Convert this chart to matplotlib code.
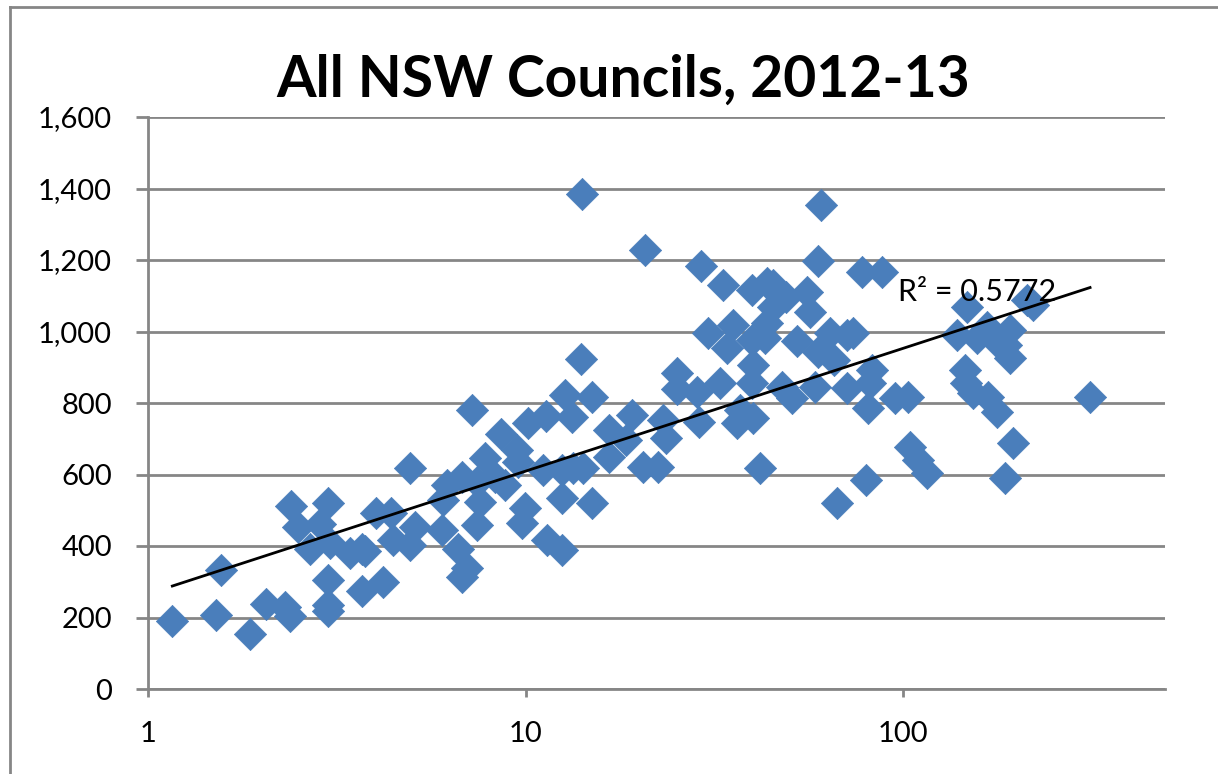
import numpy as np
import matplotlib
matplotlib.use("Agg")
import matplotlib.pyplot as plt
from matplotlib.lines import Line2D

# population (thousands, log scale) vs value per council
x_vals = [1.16, 1.51, 1.56, 1.86, 2.05, 2.31, 2.38, 2.39, 2.50, 2.68,
          2.86, 2.99, 3.03, 2.99, 3.0, 3.0, 3.43, 3.68, 3.75, 3.70,
          4.01, 4.2, 4.39, 4.46, 4.94, 4.94, 5.10, 6.0, 6.18, 6.05,
          6.64, 6.78, 6.78, 6.99, 7.2, 7.42, 7.58, 7.42, 7.81, 8.30,
          8.6, 8.8, 9.48, 9.58, 9.97, 9.8, 10.17, 11.3, 11.1, 11.4,
          12.5, 12.5, 12.7, 12.5, 13.3, 13.4, 14.0, 15.0, 14.2, 15.0,
          16.6, 16.6, 19.1, 14.1, 20.7, 60.5, 59.7, 29.1, 33.3, 39.7,
          43.5, 45.3, 47.2, 49.1, 55.6, 56.7, 45.3, 43.5, 35.5, 30.5,
          34.1, 39.7, 43.2, 52.3, 64.1, 71, 59.7, 65.5, 40.1, 25.2,
          25.2, 28.4, 32.7, 39.7, 47.7, 50.7, 58.6, 71, 37.0, 36.3,
          40.1, 28.9, 23.2, 23.6, 18.5, 20.5, 22.5, 41.8, 66.7, 79.8,
          77.7, 87.8, 73.9, 82.6, 82, 80.8, 95.2, 103.3, 147.4, 138.7,
          156.8, 166.6, 177, 192, 188, 192, 212.7, 221, 146, 147,
          153, 168, 177, 313, 196, 104.4, 109.5, 116, 186]
y_vals = [191, 207, 333, 154, 238, 230, 204, 512, 452, 393,
          461, 519, 407, 305, 235, 219, 380, 393, 385, 275,
          491, 300, 493, 417, 617, 403, 454, 445, 571, 529,
          393, 594, 314, 338, 780, 459, 524, 580, 645, 594,
          713, 571, 668, 636, 505, 463, 743, 764, 612, 418,
          389, 533, 822, 612, 762, 617, 922, 818, 617, 521,
          724, 650, 766, 1384, 1228, 1354, 1198, 1184, 1130, 1116,
          1135, 1130, 1102, 1097, 1111, 1055, 1069, 1023, 1018, 997,
          953, 976, 981, 974, 995, 990, 943, 920, 906, 883,
          838, 832, 855, 855, 846, 813, 846, 841, 780, 743,
          757, 748, 752, 701, 696, 622, 622, 617, 519, 585,
          1167, 1167, 995, 892, 855, 785, 813, 818, 1069, 990,
          981, 1013, 971, 1004, 962, 925, 1088, 1074, 892, 855,
          827, 818, 776, 818, 687, 678, 640, 603, 589]

title = "All NSW Councils, 2012-13"
r2_label = "R\u00b2 = 0.5772"
y_ticks = [0, 200, 400, 600, 800, 1000, 1200, 1400, 1600]
x_ticks = [1, 10, 100]

plt.rcParams["font.family"] = ["Lato", "DejaVu Sans"]

fig = plt.figure(figsize=(12.18, 7.74), dpi=100)
ax = fig.add_axes([148 / 1218, 1 - 689 / 774, (1165 - 148) / 1218, (689 - 117) / 774])

grid_col = "#868686"
ax.set_xscale("log")
ax.set_xlim(1, 10 ** ((1165 - 148) / 377.5))
ax.set_ylim(0, 1600)
ax.set_yticks(y_ticks)
ax.set_yticklabels([f"{v:,}" for v in y_ticks])
ax.set_xticks(x_ticks)
ax.set_xticklabels([str(v) for v in x_ticks])
ax.xaxis.set_minor_locator(matplotlib.ticker.NullLocator())
ax.yaxis.grid(True, color=grid_col, linewidth=2)
ax.set_axisbelow(True)
for s in ["top", "right"]:
    ax.spines[s].set_visible(False)
for s in ["left", "bottom"]:
    ax.spines[s].set_color(grid_col)
    ax.spines[s].set_linewidth(2)
ax.tick_params(axis="both", color=grid_col, width=2, labelsize=21)
ax.tick_params(axis="y", length=9, pad=17)
ax.tick_params(axis="x", length=6, pad=17)

ax.scatter(x_vals, y_vals, marker="D", s=270, color="#4A7EBB",
           edgecolors="#4A7EBB", linewidths=0.5, zorder=3)

# logarithmic trendline
xs = np.array(x_vals)
coef = np.polyfit(np.log(xs), np.array(y_vals), 1)
xt = np.logspace(np.log10(xs.min()), np.log10(xs.max()), 200)
ax.plot(xt, coef[0] * np.log(xt) + coef[1], color="black", linewidth=2, zorder=4)

ax.text(97, 1110, r2_label, fontsize=22, va="center", ha="left", zorder=5)

fig.text(623 / 1218, 1 - 80 / 774, title, fontsize=41, fontweight="bold",
         ha="center", va="center")

# chart area border (cropped on right/bottom)
fig.add_artist(Line2D([10 / 1218, 1], [1 - 7 / 774, 1 - 7 / 774], color="#868686", linewidth=2))
fig.add_artist(Line2D([10 / 1218, 10 / 1218], [0, 1 - 7 / 774], color="#868686", linewidth=2))

fig.savefig("out.png", dpi=100)
